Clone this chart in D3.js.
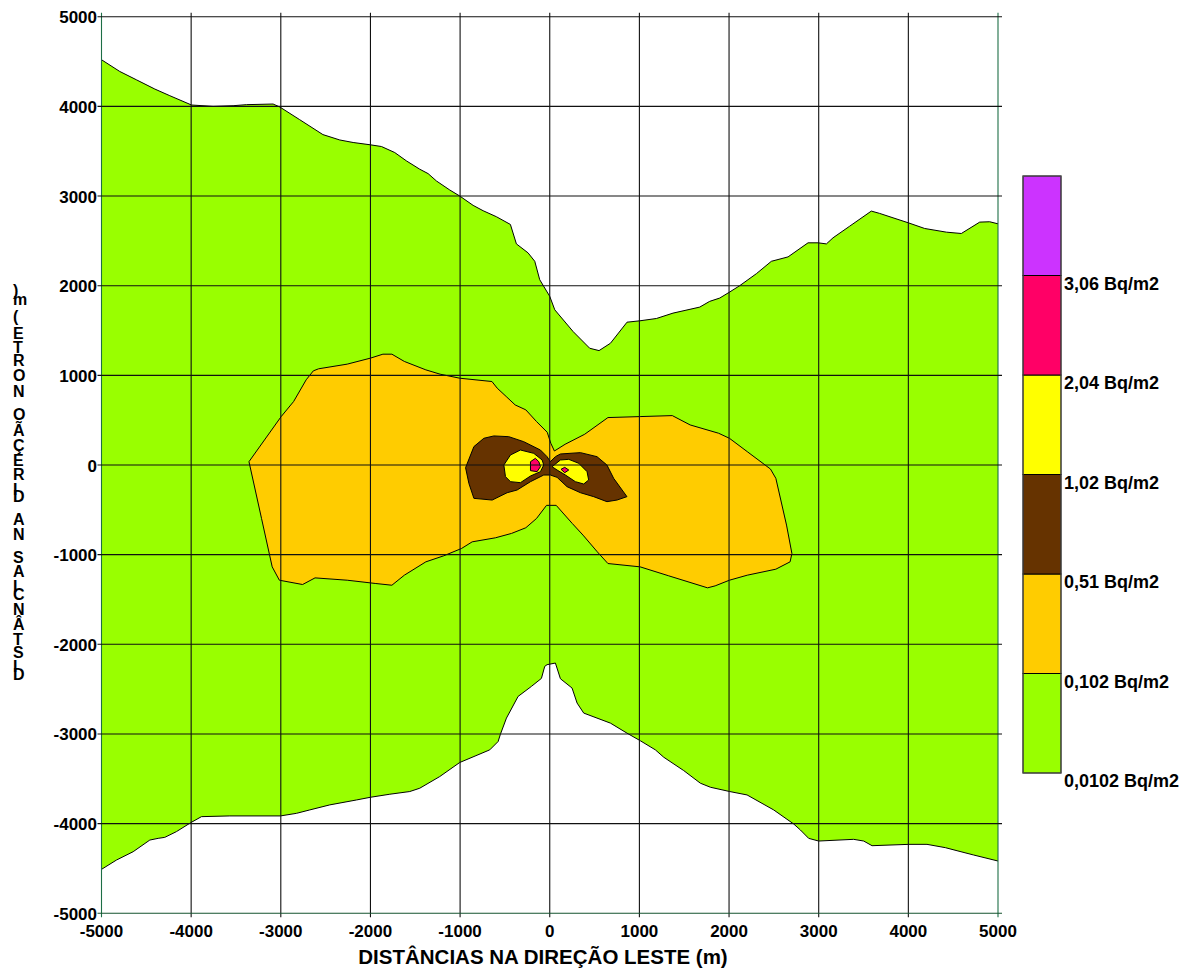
<!DOCTYPE html>
<html>
<head>
<meta charset="utf-8">
<script src="https://cdn.jsdelivr.net/npm/d3@7"></script>
<style>
  html, body { margin: 0; padding: 0; background: #fff; }
  svg { display: block; }
  text { font-family: Arial, "Liberation Sans", sans-serif; font-weight: bold; fill: #000; }
</style>
</head>
<body>
<svg id="chart" width="1191" height="978"></svg>
<script>
// Contour levels (Bq/m2) and their fill colours, lowest band first
const levels = [0.0102, 0.102, 0.51, 1.02, 2.04, 3.06];
const levelLabels = ["0,0102 Bq/m2", "0,102 Bq/m2", "0,51 Bq/m2", "1,02 Bq/m2", "2,04 Bq/m2", "3,06 Bq/m2"];
const bandColors = ["#99ff00", "#ffcc00", "#663300", "#ffff00", "#ff0066", "#cc33ff"];

// Axis ticks (m)
const xTicks = [-5000, -4000, -3000, -2000, -1000, 0, 1000, 2000, 3000, 4000, 5000];
const yTicks = [-5000, -4000, -3000, -2000, -1000, 0, 1000, 2000, 3000, 4000, 5000];

const xTitle = "DISTÂNCIAS NA DIREÇÃO LESTE (m)";
const yTitle = "DISTÂNCIAS NA DIREÇÃO NORTE (m)";

// 0.0102 isoline: upper and lower edges of the outer band, west to east (x, y in m)
const outerTop = [
  [-5000,4520],[-4796,4389],[-4610,4296],[-4405,4193],[-4238,4119],[-3996,4015],[-3755,4000],
  [-3532,4007],[-3383,4019],[-3086,4026],[-3011,3993],[-2790,3852],[-2530,3685],[-2342,3625],
  [-2193,3597],[-2000,3571],[-1877,3552],[-1729,3485],[-1599,3392],[-1450,3299],[-1357,3250],
  [-1264,3168],[-1115,3067],[-1004,3000],[-855,2896],[-743,2836],[-595,2769],[-439,2683],
  [-372,2466],[-242,2366],[-167,2272],[-112,2067],[-56,1974],[0,1881],[56,1731],[260,1489],
  [446,1302],[550,1276],[677,1358],[862,1593],[1004,1608],[1190,1634],[1375,1694],[1673,1761],
  [1784,1825],[1896,1862],[2000,1925],[2119,2000],[2305,2134],[2472,2272],[2658,2321],
  [2881,2478],[2993,2478],[3086,2466],[3160,2534],[3346,2664],[3587,2832],[3680,2806],
  [3829,2757],[4000,2701],[4182,2638],[4424,2597],[4591,2582],[4796,2709],[4907,2713],[5000,2690]
];
const outerBottom = [
  [-5000,-4510],[-4833,-4406],[-4647,-4313],[-4461,-4183],[-4368,-4164],[-4294,-4153],[-4164,-4089],
  [-4004,-3989],[-3885,-3922],[-3569,-3914],[-3004,-3914],[-2825,-3885],[-2677,-3847],[-2454,-3791],
  [-2156,-3736],[-2000,-3706],[-1784,-3672],[-1561,-3642],[-1450,-3605],[-1227,-3475],[-1004,-3318],
  [-669,-3177],[-576,-3084],[-550,-3002],[-483,-2823],[-353,-2581],[-204,-2469],[-93,-2380],
  [-56,-2246],[-30,-2227],[63,-2209],[119,-2384],[249,-2488],[305,-2655],[379,-2767],[677,-2879],
  [862,-2991],[1011,-3076],[1178,-3177],[1271,-3259],[1494,-3408],[1680,-3549],[1792,-3594],
  [2007,-3642],[2201,-3680],[2498,-3847],[2721,-4004],[2796,-4071],[2888,-4164],[3000,-4194],
  [3390,-4175],[3502,-4194],[3595,-4246],[4007,-4231],[4208,-4231],[4413,-4268],[4543,-4302],
  [4729,-4350],[5000,-4417]
];

// 0.102 isoline
const ring102 = [
  [-3355,37],[-2996,540],[-2857,708],[-2717,950],[-2637,1050],[-2578,1073],[-2259,1125],[-2000,1192],
  [-1861,1236],[-1761,1236],[-1622,1155],[-1382,1061],[-1223,1013],[-1004,968],[-645,931],[-586,857],
  [-486,764],[-386,670],[-267,615],[-147,484],[-28,365],[12,242],[52,156],[171,231],[390,343],
  [649,529],[1008,540],[1367,551],[1566,447],[1884,354],[2004,298],[2203,149],[2462,-45],[2522,-149],
  [2641,-670],[2701,-987],[2681,-1080],[2522,-1162],[2203,-1229],[2004,-1285],[1845,-1348],
  [1760,-1370],[1327,-1236],[1008,-1136],[649,-1099],[530,-968],[371,-782],[251,-652],[72,-450],
  [-36,-450],[-147,-596],[-267,-700],[-426,-763],[-606,-812],[-865,-857],[-984,-931],[-1183,-1013],
  [-1382,-1080],[-1622,-1229],[-1761,-1341],[-1940,-1322],[-2259,-1285],[-2618,-1259],[-2757,-1333],
  [-3016,-1285],[-3096,-1136],[-3215,-596]
];

// 0.51 isoline
const ring051 = [
  [-939,-30],[-846,205],[-735,298],[-624,324],[-457,316],[-290,260],[-104,167],[-30,93],[7,37],
  [63,93],[119,123],[342,138],[527,93],[638,0],[713,-149],[861,-353],[750,-391],[638,-409],
  [490,-353],[342,-309],[193,-242],[82,-138],[7,-112],[-67,-112],[-215,-186],[-364,-279],
  [-475,-309],[-642,-391],[-846,-372],[-902,-205]
];

// 1.02 isolines (two cores)
const ring102West = [
  [-512,0],[-438,112],[-327,167],[-178,130],[-85,56],[-67,0],[-104,-74],[-215,-123],[-327,-197],
  [-438,-186],[-494,-130]
];
const ring102East = [
  [26,-19],[119,56],[212,63],[323,19],[416,-74],[434,-167],[379,-212],[286,-186],[175,-112],[82,-56]
];

// 2.04 isolines (two cores)
const ring204West = [[-215,37],[-160,74],[-122,37],[-104,-19],[-141,-74],[-215,-63]];
const ring204East = [[126,-48],[167,-26],[212,-56],[167,-86]];

// Filled bands, painted from the outer level inwards
const bands = [
  { ring: outerTop.concat(outerBottom.slice().reverse()), level: 0 },
  { ring: ring102, level: 1 },
  { ring: ring051, level: 2 },
  { ring: ring102West, level: 3 },
  { ring: ring102East, level: 3 },
  { ring: ring204West, level: 4 },
  { ring: ring204East, level: 4 }
];

const svg = d3.select("#chart");
const x = d3.scaleLinear().domain([-5000, 5000]).range([101.5, 998]);
const y = d3.scaleLinear().domain([-5000, 5000]).range([913.3, 16.7]);
const line = d3.line().x(d => x(d[0])).y(d => y(d[1]));

const plot = svg.append("g");

// Band fills
plot.selectAll("path.band")
  .data(bands)
  .join("path")
  .attr("class", "band")
  .attr("d", d => line(d.ring) + "Z")
  .attr("fill", d => bandColors[d.level])
  .attr("stroke", d => d.level === 0 ? "none" : "#000")
  .attr("stroke-width", 1)
  .attr("stroke-linejoin", "round");

// Outer isoline drawn as two open edges
plot.selectAll("path.edge")
  .data([outerTop, outerBottom])
  .join("path")
  .attr("class", "edge")
  .attr("d", line)
  .attr("fill", "none")
  .attr("stroke", "#000")
  .attr("stroke-width", 1);

// Grid, extended a few pixels past the frame as tick marks
const tickLen = 4;
const grid = svg.append("g").attr("stroke-width", 1.1);
grid.selectAll("line.v")
  .data(xTicks)
  .join("line")
  .attr("x1", d => x(d)).attr("x2", d => x(d))
  .attr("y1", y(5000) - tickLen).attr("y2", y(-5000) + tickLen)
  .attr("stroke", d => (d === -5000 || d === 5000) ? "#1d6e46" : "#111");
grid.selectAll("line.h")
  .data(yTicks)
  .join("line")
  .attr("y1", d => y(d)).attr("y2", d => y(d))
  .attr("x1", x(-5000) - tickLen).attr("x2", x(5000) + tickLen)
  .attr("stroke", d => d === -5000 ? "#14532f" : "#111");

// Tick labels
svg.append("g").selectAll("text")
  .data(yTicks)
  .join("text")
  .attr("x", 97)
  .attr("y", d => y(d) + 6.5)
  .attr("text-anchor", "end")
  .attr("font-size", 17)
  .text(d => d);

svg.append("g").selectAll("text")
  .data(xTicks)
  .join("text")
  .attr("x", d => x(d))
  .attr("y", 937)
  .attr("text-anchor", "middle")
  .attr("font-size", 17)
  .text(d => d);

// X axis title
svg.append("text")
  .attr("x", 543)
  .attr("y", 964)
  .attr("text-anchor", "middle")
  .attr("font-size", 20.5)
  .text(xTitle);

// Y axis title: characters stacked vertically, last character on top,
// each step following the glyph's own advance width
(function () {
  const fontSize = 16;
  const gap = 3.4;
  const ctx = document.createElement("canvas").getContext("2d");
  ctx.font = "bold " + fontSize + "px Arial, 'Liberation Sans', sans-serif";
  const chars = Array.from(yTitle).reverse();
  let baseline = 296;
  const g = svg.append("g");
  chars.forEach(ch => {
    g.append("text")
      .attr("x", 13)
      .attr("y", baseline)
      .attr("font-size", fontSize)
      .text(ch);
    baseline += ctx.measureText(ch).width + gap;
  });
})();

// Legend
const legX = 1023, legW = 38;
const legY = d3.scaleLinear().domain([0, 6]).range([773, 176]);
const legend = svg.append("g");
legend.selectAll("rect")
  .data(bandColors)
  .join("rect")
  .attr("x", legX)
  .attr("y", (d, i) => legY(i + 1))
  .attr("width", legW)
  .attr("height", (d, i) => legY(i) - legY(i + 1))
  .attr("fill", d => d)
  .attr("stroke", "#000")
  .attr("stroke-width", 1);
legend.append("rect")
  .attr("x", legX).attr("y", legY(6))
  .attr("width", legW).attr("height", legY(0) - legY(6))
  .attr("fill", "none").attr("stroke", "#555").attr("stroke-width", 1);
legend.selectAll("text")
  .data(levels)
  .join("text")
  .attr("x", legX + legW + 3)
  .attr("y", (d, i) => legY(i) + 14)
  .attr("font-size", 18)
  .text((d, i) => levelLabels[i]);
</script>
</body>
</html>
